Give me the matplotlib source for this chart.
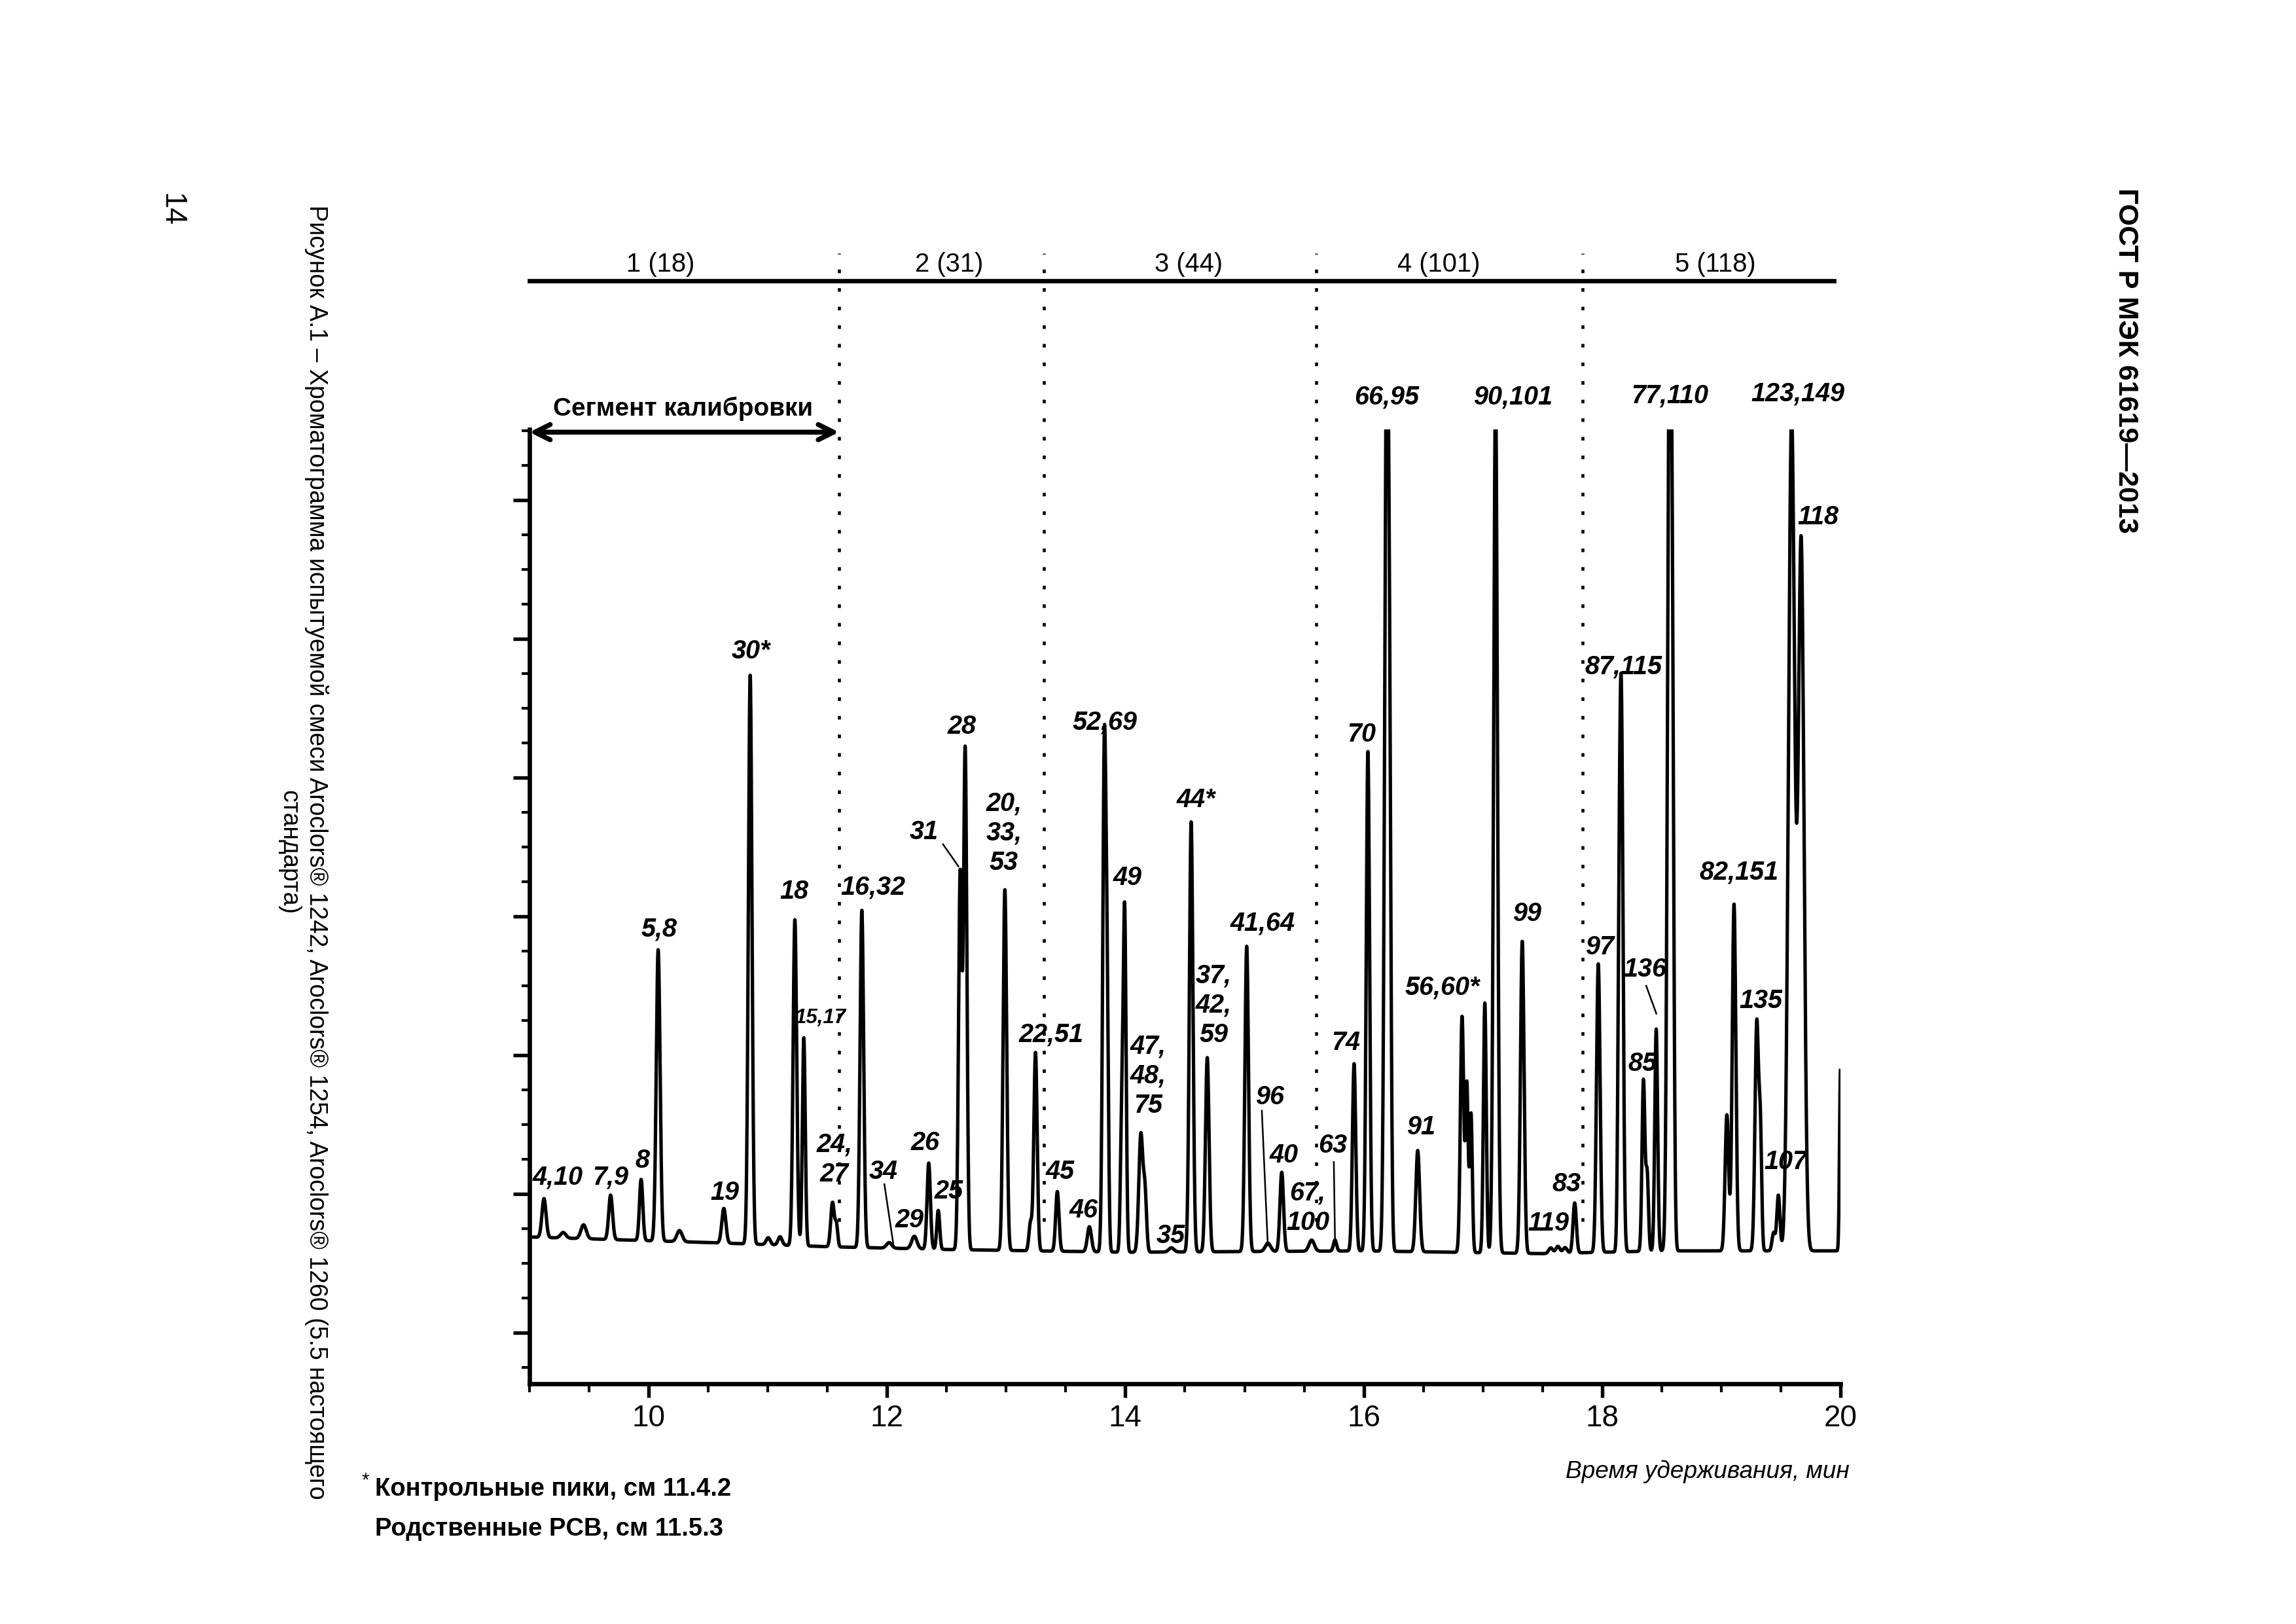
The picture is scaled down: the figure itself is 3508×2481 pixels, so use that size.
import numpy as np
import matplotlib
matplotlib.use('Agg')
import matplotlib.pyplot as plt
from matplotlib.ticker import MultipleLocator

plt.rcParams['font.family'] = ['Liberation Sans', 'DejaVu Sans']

# базовая линия (время, сигнал)
base_t = [9.0, 10.5, 11.5, 12.5, 14.0, 16.0, 17.5, 18.5, 20.0]
base_y = [6.9, 6.5, 6.2, 6.0, 5.8, 5.9, 5.7, 5.9, 5.9]

# пики: время удерживания, высота над базовой линией, ширина
peak_t = [9.122, 9.283, 9.454, 9.681, 9.937, 10.080, 10.259, 10.631, 10.852, 11.003,
          11.103, 11.227, 11.302, 11.543, 11.576, 11.789, 12.018, 12.229, 12.350, 12.430,
          12.614, 12.656, 12.989, 13.204, 13.246, 13.429, 13.698, 13.824, 13.848, 13.969,
          13.994, 14.130, 14.165, 14.386, 14.552, 14.687, 15.018, 15.196, 15.312, 15.563,
          15.759, 15.919, 16.035, 16.191, 16.216, 16.453, 16.825, 16.865, 16.900, 17.016,
          17.106, 17.330, 17.569, 17.629, 17.689, 17.770, 17.968, 18.142, 18.162, 18.347,
          18.378, 18.454, 18.564, 18.589, 19.047, 19.107, 19.298, 19.328, 19.439, 19.479,
          19.590, 19.670, 20.0]
peak_h = [2.8, 0.4, 1.0, 3.2, 4.4, 21.0, 0.8, 2.5, 41.0, 0.5,
          0.6, 23.5, 15.0, 3.2, 1.5, 24.3, 0.4, 0.9, 6.2, 2.8,
          27.0, 36.0, 26.0, 2.0, 14.3, 4.3, 1.8, 36.5, 14.0, 9.0,
          24.5, 8.5, 4.0, 0.3, 31.0, 14.0, 22.0, 0.6, 5.7, 0.8,
          0.8, 13.5, 36.0, 62.0, 30.0, 7.3, 17.0, 12.0, 10.0, 18.0,
          62.0, 22.5, 0.4, 0.5, 0.4, 3.6, 20.8, 15.0, 38.0, 12.3,
          5.5, 16.0, 62.0, 35.0, 9.8, 25.0, 16.5, 8.0, 1.3, 4.0,
          60.0, 51.0, 13.0]
peak_w = [0.017, 0.022, 0.022, 0.016, 0.014, 0.016, 0.022, 0.017, 0.015, 0.017,
          0.017, 0.015, 0.012, 0.015, 0.011, 0.015, 0.022, 0.022, 0.014, 0.012,
          0.014, 0.014, 0.015, 0.013, 0.014, 0.014, 0.017, 0.014, 0.011, 0.011,
          0.012, 0.017, 0.013, 0.022, 0.015, 0.015, 0.015, 0.022, 0.015, 0.022,
          0.013, 0.014, 0.014, 0.016, 0.013, 0.016, 0.014, 0.011, 0.011, 0.012,
          0.016, 0.015, 0.017, 0.017, 0.017, 0.014, 0.015, 0.011, 0.014, 0.012,
          0.011, 0.012, 0.016, 0.013, 0.015, 0.015, 0.015, 0.011, 0.013, 0.013,
          0.026, 0.024, 0.008]

# подписи пиков
peak_labels = ['4,10', '7,9', '8', '5,8', '19', '30*', '18', '24,\n27', '16,32', '34',
               '29', '26', '25', '31', '28', '20,\n33,\n53', '22,51', '45', '46', '52,69',
               '49', '47,\n48,\n75', '35', '44*', '37,\n42,\n59', '41,64', '96', '40', '67,\n100', '63',
               '74', '70', '66,95', '91', '56,60*', '90,101', '99', '119', '83', '97',
               '87,115', '136', '85', '77,110', '82,151', '135', '107', '123,149', '118']
label_xy = [(9.24, 11.2), (9.68, 11.2), (9.95, 12.4), (10.09, 29.1), (10.64, 10.1),
            (10.86, 49.1), (11.22, 31.8), (11.56, 12.5), (11.88, 32.1), (11.97, 11.6),
            (12.19, 8.1), (12.32, 13.7), (12.52, 10.2), (12.31, 36.1), (12.63, 43.7),
            (12.98, 36.0), (13.38, 21.5), (13.45, 11.6), (13.65, 8.8), (13.83, 44.0),
            (14.02, 32.8), (14.19, 18.5), (14.38, 7.0), (14.59, 38.4), (14.74, 23.6),
            (15.15, 29.5), (15.21, 17.0), (15.33, 12.8), (15.53, 9.0), (15.74, 13.5),
            (15.85, 20.9), (15.98, 43.1), (16.19, 67.45), (16.48, 14.8), (16.66, 24.9),
            (17.25, 67.45), (17.37, 30.2), (17.55, 7.9), (17.70, 10.7), (17.98, 27.8),
            (18.18, 48.0), (18.36, 26.2), (18.34, 19.4), (18.57, 67.55), (19.15, 33.2),
            (19.33, 23.9), (19.54, 12.3), (19.64, 67.65), (19.81, 58.8)]

# выносные линии к подписям
leaders = [((12.47, 35.2), (12.60, 33.6)),
           ((11.978, 10.7), (12.058, 6.1)),
           ((15.145, 16.0), (15.195, 6.3)),
           ((15.749, 12.3), (15.759, 6.6)),
           ((18.37, 25.0), (18.455, 23.0))]

# сегменты
seg_bounds = [11.597, 13.317, 15.602, 17.838]
seg_names = ['1 (18)', '2 (31)', '3 (44)', '4 (101)', '5 (118)']
seg_centers = [10.10, 12.52, 14.53, 16.63, 18.95]

xticks = [10, 12, 14, 16, 18, 20]

# сигнал
t = np.linspace(9.0, peak_t[-1], 8000)
sig = np.interp(t, base_t, base_y)
for pt, ph, pw in zip(peak_t, peak_h, peak_w):
    sig = sig + ph * np.exp(-0.5 * ((t - pt) / pw) ** 2)

fig = plt.figure(figsize=(3508 / 300, 2481 / 300), dpi=300)
ax = fig.add_axes([0.2306, 0.1479, 0.5710, 0.5877])

ax.plot(t, sig, color='k', linewidth=1.25)

ax.spines['top'].set_visible(False)
ax.spines['right'].set_visible(False)
ax.spines['left'].set_linewidth(1.6)
ax.spines['bottom'].set_linewidth(1.6)

ax.set_xlim(9, 20)
ax.set_ylim(-3.68, 65.1)
ax.set_xticks(xticks)
ax.set_xticklabels([str(v) for v in xticks], fontsize=11)
ax.xaxis.set_minor_locator(MultipleLocator(0.5))
ax.yaxis.set_major_locator(MultipleLocator(10))
ax.yaxis.set_minor_locator(MultipleLocator(2.5))
ax.set_yticklabels([])
ax.tick_params(axis='both', which='major', direction='out', length=5, width=1.3, pad=2.5)
ax.tick_params(axis='both', which='minor', direction='out', length=3, width=1.0)
ax.tick_params(axis='y', which='major', length=6)

# подписи пиков
for lab, (lx, ly) in zip(peak_labels, label_xy):
    ax.text(lx, ly, lab, fontsize=9.5, fontstyle='italic', fontweight='bold',
            ha='center', va='center', linespacing=1.25)
ax.text(11.44, 22.7, '15,17', fontsize=7.5, fontstyle='italic', fontweight='bold',
        ha='center', va='center')

for (x0, y0), (x1, y1) in leaders:
    ax.plot([x0, x1], [y0, y1], color='k', linewidth=0.6, clip_on=False)

# верхняя шкала сегментов
ax.plot([9.0, 19.945], [75.8, 75.8], color='k', linewidth=1.6, clip_on=False)
for xb in seg_bounds:
    ax.plot([xb, xb], [8.0, 77.8], color='k', linewidth=1.1,
            linestyle=(0, (1.2, 5)), clip_on=False)
for name, xc in zip(seg_names, seg_centers):
    ax.text(xc, 76.1, name, fontsize=9.6, ha='center', va='bottom')

# сегмент калибровки
ax.annotate('', xy=(9.0, 64.9), xytext=(seg_bounds[0], 64.9),
            arrowprops=dict(arrowstyle='<->', lw=1.8, color='k', mutation_scale=14,
                            shrinkA=0, shrinkB=0),
            annotation_clip=False)
ax.text(10.29, 66.6, 'Сегмент калибровки', fontsize=9.3, fontweight='bold',
        ha='center', va='center')

fig.text(0.8055, 0.0938, 'Время удерживания, мин', fontsize=8.9, fontstyle='italic',
         ha='right', va='center')

fig.text(0.1575, 0.0884, '*', fontsize=7, ha='left', va='center')
fig.text(0.1633, 0.0829, 'Контрольные пики, см 11.4.2', fontsize=9.2,
         fontweight='bold', ha='left', va='center')
fig.text(0.1633, 0.0586, 'Родственные PCB, см 11.5.3', fontsize=9.2,
         fontweight='bold', ha='left', va='center')

fig.text(0.0746, 0.871, '14', fontsize=11, rotation=-90, ha='center', va='center')
fig.text(0.132, 0.4752,
         'Рисунок А.1 – Хроматограмма испытуемой смеси Aroclors® 1242, '
         'Aroclors® 1254, Aroclors® 1260 (5.5 настоящего\nстандарта)',
         fontsize=9.0, rotation=-90, ha='center', va='center',
         multialignment='center', linespacing=1.2)
fig.text(0.926, 0.778, 'ГОСТ Р МЭК 61619—2013', fontsize=10.3, fontweight='bold',
         rotation=-90, ha='center', va='center')

fig.savefig('out.png', dpi=300)
